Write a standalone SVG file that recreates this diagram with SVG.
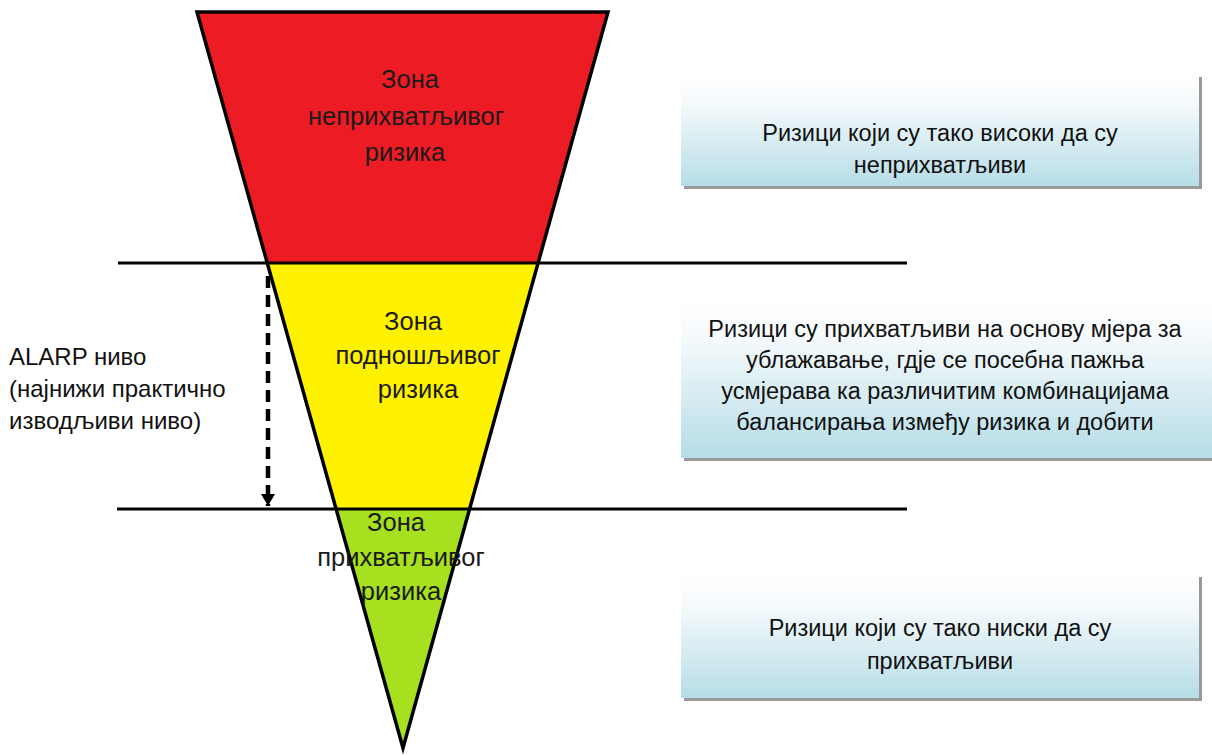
<svg xmlns="http://www.w3.org/2000/svg" width="1212" height="756" viewBox="0 0 1212 756">
<style>
.zone{font-family:"Liberation Sans",Arial,sans-serif;font-size:25.5px;fill:#1a1a1a;text-anchor:middle}
.box{font-family:"Liberation Sans",Arial,sans-serif;font-size:23.5px;fill:#111;text-anchor:middle}
.lbl{font-family:"Liberation Sans",Arial,sans-serif;font-size:24px;fill:#111}
.edge{stroke:#000;stroke-width:3.5;fill:none;stroke-linejoin:miter}
.hl{stroke:#000;stroke-width:3}
</style>
<defs>
<linearGradient id="bg" x1="0" y1="0" x2="0" y2="1">
<stop offset="0" stop-color="#ffffff"/>
<stop offset="0.25" stop-color="#f6fafc"/>
<stop offset="1" stop-color="#b6dde7"/>
</linearGradient>
<marker id="ah" markerWidth="14" markerHeight="14" refX="12" refY="7" orient="auto" markerUnits="userSpaceOnUse" viewBox="0 0 14 14">
<path d="M0,0 L12,7 L0,14 Z" fill="#000"/>
</marker>
</defs>
<g id="funnel">
<polygon points="197,12 608,12 538,263 268,263" fill="#ed1c24"/>
<polygon points="268,263 538,263 470,509 336,509" fill="#fff200"/>
<polygon points="336,509 470,509 403,748" fill="#a6e01e"/>
<polygon class="edge" points="197,12 608,12 403,748"/>
</g>
<g id="levels">
<line class="hl" x1="118" y1="263" x2="907" y2="263"/>
<line class="hl" x1="117" y1="509" x2="907" y2="509"/>
</g>
<g id="zone-red">
<text class="zone" x="410" y="88">Зона</text>
<text class="zone" x="406" y="125">неприхватљивог</text>
<text class="zone" x="405" y="161">ризика</text>
</g>
<g id="zone-yellow">
<text class="zone" x="413" y="330">Зона</text>
<text class="zone" x="418" y="364">подношљивог</text>
<text class="zone" x="418" y="398">ризика</text>
</g>
<g id="zone-green">
<text class="zone" x="396" y="531">Зона</text>
<text class="zone" x="401" y="566">прихватљивог</text>
<text class="zone" x="401" y="600">ризика</text>
</g>
<g id="connectors">
<line x1="268" y1="276" x2="268" y2="506" stroke="#000" stroke-width="4.5" stroke-dasharray="12,7" marker-end="url(#ah)"/>
</g>
<g id="alarp">
<text class="lbl" x="9" y="365">ALARP ниво</text>
<text class="lbl" x="9" y="397">(најнижи практично</text>
<text class="lbl" x="9" y="429">изводљиви ниво)</text>
</g>
<g id="box-high">
<rect x="684" y="77" width="518" height="112" fill="#999"/>
<rect x="681" y="74" width="518" height="112" fill="url(#bg)"/>
<text class="box" x="940" y="141">Ризици који су тако високи да су</text>
<text class="box" x="940" y="173">неприхватљиви</text>
</g>
<g id="box-mid">
<rect x="684" y="299" width="540" height="162" fill="#999"/>
<rect x="681" y="296" width="540" height="162" fill="url(#bg)"/>
<text class="box" x="945" y="337">Ризици су прихватљиви на основу мјера за</text>
<text class="box" x="945" y="368">ублажавање, гдје се посебна пажња</text>
<text class="box" x="945" y="399">усмјерава ка различитим комбинацијама</text>
<text class="box" x="945" y="430">балансирања између ризика и добити</text>
</g>
<g id="box-low">
<rect x="684" y="577" width="518" height="124" fill="#999"/>
<rect x="681" y="574" width="518" height="124" fill="url(#bg)"/>
<text class="box" x="940" y="636">Ризици који су тако ниски да су</text>
<text class="box" x="940" y="669">прихватљиви</text>
</g>
</svg>
